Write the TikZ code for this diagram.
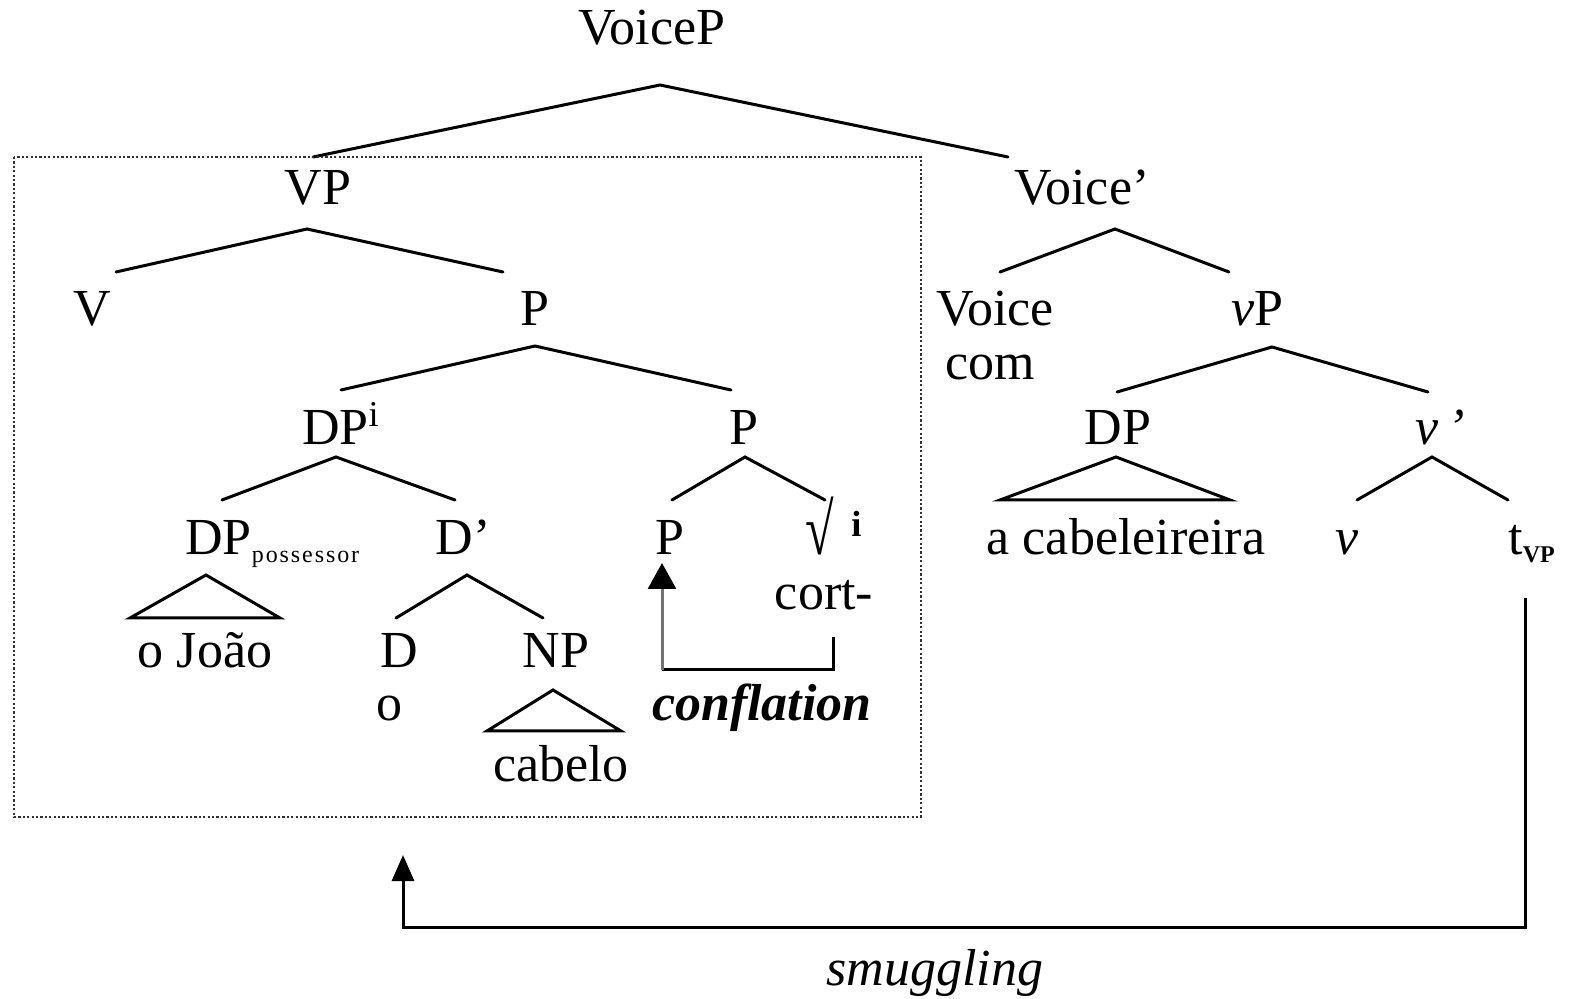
\documentclass[tikz,border=0pt]{standalone}
\usepackage{fontspec}
\setmainfont{Liberation Serif}
\usetikzlibrary{arrows.meta}
\newcommand{\trf}{\fontsize{26}{31}\selectfont}
\newcommand{\smallsub}[1]{\raisebox{-4pt}{\fontsize{12}{12}\selectfont #1}}

\begin{document}
\begin{tikzpicture}[x=0.5pt,y=-0.5pt,
  lbl/.style={font=\trf, anchor=base, inner sep=0pt},
  branch/.style={line width=1.5pt, line cap=round},
  movearrow/.style={line width=1.5pt, -{Triangle[length=13pt,width=11pt]}},
  boxline/.style={draw=black!80, line width=1.2pt, dash pattern=on 1.1pt off 1.1pt}]
\useasboundingbox (0,0) rectangle (1575,999);

% ---- labels ----
\node[lbl] (VoiceP) at (652,45) {VoiceP};
\node[lbl] (VP) at (318,205) {VP};
\node[lbl] (Voicebar) at (1082,205) {Voice’};
\node[lbl] (V) at (92,326) {V};
\node[lbl] (P1) at (535,326) {P};
\node[lbl] (Voice) at (995,326) {Voice};
\node[lbl] (com) at (990,380) {com};
\node[lbl] (vP) at (1257,326) {\textit{v}P};
\node[lbl] (DPi) at (341,445) {DP\textsuperscript{i}};
\node[lbl] (P2) at (744,445) {P};
\node[lbl] (DP2) at (1118,445) {DP};
\node[lbl] (vbar) at (1440,445) {\textit{v\,’}};
\node[lbl, anchor=base west] (DPposs) at (185,555)
  {DP\smallsub{\addfontfeature{LetterSpace=8}possessor}};
\node[lbl] (Dbar) at (463,555) {D’};
\node[lbl] (P3) at (670,555) {P};
\node[lbl, anchor=base west] (root) at (805,555) {\scalebox{1}[1.4]{√}\,\,\textsuperscript{\textbf{i}}};
\node[lbl] (cort) at (824,610) {cort-};
\node[lbl] (oJoao) at (205,668) {o João};
\node[lbl] (D) at (399,668) {D};
\node[lbl] (NP) at (556,668) {NP};
\node[lbl] (o) at (389,720) {o};
\node[lbl] (conflation) at (762,720) {\bfseries\itshape conflation};
\node[lbl] (cabelo) at (561,782) {cabelo};
\node[lbl] (acab) at (1126,555) {a cabeleireira};
\node[lbl] (v) at (1347,555) {\textit{v}};
\node[lbl, anchor=base west] (tvp) at (1508,555) {t\smallsub{\bfseries VP}};
\node[lbl] (smuggling) at (935,985) {\itshape smuggling};

% ---- branch points ----
\coordinate (VoiceP-b) at (660,85);
\coordinate (VP-t) at (313,157);
\coordinate (Voicebar-t) at (1008,157);
\coordinate (VP-b) at (307,229);
\coordinate (V-t) at (116,272);
\coordinate (P1-t) at (503,272);
\coordinate (Voicebar-b) at (1115,229);
\coordinate (Voice-t) at (1000,272);
\coordinate (vP-t) at (1229,272);
\coordinate (P1-b) at (535,346);
\coordinate (DPi-t) at (341,390);
\coordinate (P2-t) at (731,390);
\coordinate (vP-b) at (1272,347);
\coordinate (DP2-t) at (1117,392);
\coordinate (vbar-t) at (1428,392);
\coordinate (DPi-b) at (336,457);
\coordinate (DPposs-t) at (222,500);
\coordinate (Dbar-t) at (455,500);
\coordinate (P2-b) at (745,457);
\coordinate (P3-t) at (672,500);
\coordinate (root-t) at (825,500);
\coordinate (DP2-b) at (1116,457);
\coordinate (acab-l) at (1000,500);
\coordinate (acab-r) at (1230,500);
\coordinate (vbar-b) at (1432,457);
\coordinate (v-t) at (1357,500);
\coordinate (tvp-t) at (1508,500);
\coordinate (DPposs-b) at (206,575);
\coordinate (oJoao-l) at (130,618);
\coordinate (oJoao-r) at (280,618);
\coordinate (Dbar-b) at (467,575);
\coordinate (D-t) at (396,618);
\coordinate (NP-t) at (543,618);
\coordinate (NP-b) at (553,690);
\coordinate (cabelo-l) at (487,731);
\coordinate (cabelo-r) at (621,731);

% ---- branches ----
\draw[branch] (VP-t) -- (VoiceP-b) -- (Voicebar-t);
\draw[branch] (V-t) -- (VP-b) -- (P1-t);
\draw[branch] (Voice-t) -- (Voicebar-b) -- (vP-t);
\draw[branch] (DPi-t) -- (P1-b) -- (P2-t);
\draw[branch] (DP2-t) -- (vP-b) -- (vbar-t);
\draw[branch] (DPposs-t) -- (DPi-b) -- (Dbar-t);
\draw[branch] (P3-t) -- (P2-b) -- (root-t);
\draw[branch] (acab-l) -- (DP2-b) -- (acab-r) -- cycle;
\draw[branch] (v-t) -- (vbar-b) -- (tvp-t);
\draw[branch] (oJoao-l) -- (DPposs-b) -- (oJoao-r) -- cycle;
\draw[branch] (D-t) -- (Dbar-b) -- (NP-t);
\draw[branch] (cabelo-l) -- (NP-b) -- (cabelo-r) -- cycle;

% ---- dotted box round the moved VP ----
\coordinate (box-nw) at (14,157);
\coordinate (box-se) at (921,817);
\draw[boxline] (box-nw) rectangle (box-se);

% ---- conflation ----
\coordinate (conf-start) at (833,637);
\coordinate (conf-corner) at (662,670);
\coordinate (conf-end) at (662,563);
\draw[line width=1.5pt] (conf-start) |- (conf-corner);
\draw[line width=1.5pt, draw=black!55, -{Triangle[length=13pt,width=14pt,color=black]}] (conf-corner) -- (conf-end);

% ---- smuggling ----
\coordinate (smug-start) at (1525,598);
\coordinate (smug-corner) at (403,927);
\coordinate (smug-end) at (403,855);
\draw[movearrow] (smug-start) |- (smug-corner) -- (smug-end);
\end{tikzpicture}
\end{document}
